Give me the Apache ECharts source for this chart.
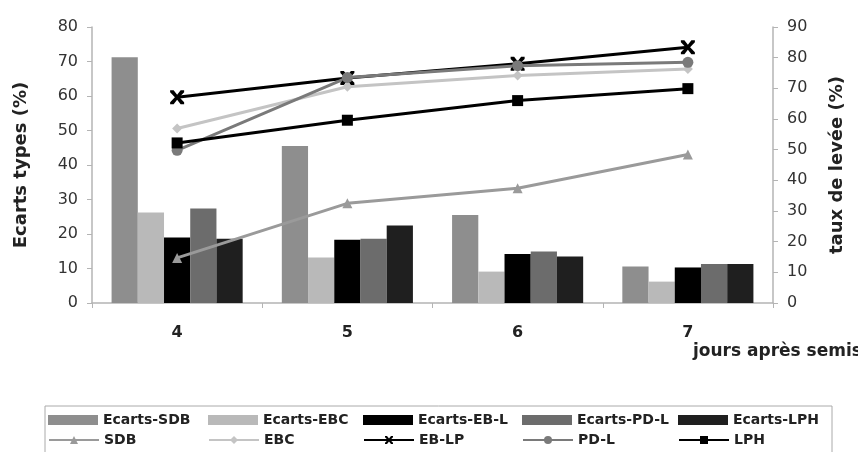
<!DOCTYPE html>
<html>
<head>
<meta charset="utf-8">
<script src="https://cdn.jsdelivr.net/npm/echarts@6/dist/echarts.min.js"></script>
<style>html,body{margin:0;padding:0;background:#fff}#c{width:858px;height:452px}</style>
</head>
<body>
<div id="c"></div>
<script>
const categories = ['4', '5', '6', '7'];
const leftTicks = [0, 80, 10];   // min, max, step (Ecarts types)
const rightTicks = [0, 90, 10];  // min, max, step (taux de levée)

// bars: standard deviations (%)
const ecartsSDB = [71.2, 45.5, 25.5, 10.6];
const ecartsEBC = [26.2, 13.2, 9.1, 6.2];
const ecartsEBL = [19.0, 18.3, 14.2, 10.3];
const ecartsPDL = [27.4, 18.6, 14.9, 11.3];
const ecartsLPH = [18.6, 22.5, 13.5, 11.3];

// lines: emergence rate (%)
const tauxSDB = [14.7, 32.5, 37.4, 48.4];
const tauxEBC = [56.9, 70.5, 74.2, 76.3];
const tauxEBLP = [67.1, 73.4, 78.0, 83.4];
const tauxPDL = [49.8, 73.5, 77.4, 78.5];
const tauxLPH = [52.2, 59.6, 66.0, 69.9];

const FONT = 'DejaVu Sans';
const xMark = 'path://M0,0L2.5,0L5,3.2L7.5,0L10,0L10,1.5L6.6,5L10,8.5L10,10L7.5,10L5,6.8L2.5,10L0,10L0,8.5L3.4,5L0,1.5Z';

const barDefs = [
  ['Ecarts-SDB', ecartsSDB, '#8e8e8e'],
  ['Ecarts-EBC', ecartsEBC, '#b9b9b9'],
  ['Ecarts-EB-L', ecartsEBL, '#000000'],
  ['Ecarts-PD-L', ecartsPDL, '#6c6c6c'],
  ['Ecarts-LPH', ecartsLPH, '#1f1f1f']
];
const lineDefs = [
  ['SDB', tauxSDB, '#9a9a9a', 'triangle', 10],
  ['EBC', tauxEBC, '#c4c4c4', 'diamond', 10],
  ['EB-LP', tauxEBLP, '#000000', xMark, 14],
  ['PD-L', tauxPDL, '#7a7a7a', 'circle', 11],
  ['LPH', tauxLPH, '#000000', 'rect', 11]
];

const series = [];
barDefs.forEach(d => series.push({
  name: d[0], type: 'bar', data: d[1], yAxisIndex: 0,
  barGap: '0%', barCategoryGap: '23%',
  itemStyle: {color: d[2]}, z: 2
}));
lineDefs.forEach(d => series.push({
  name: d[0], type: 'line', data: d[1], yAxisIndex: 1,
  symbol: d[3], symbolSize: d[4], showSymbol: true,
  lineStyle: {color: d[2], width: 3},
  itemStyle: {color: d[2]}, z: 5
}));

const colX = [48, 208, 363, 522, 678];
const legends = [];
barDefs.forEach((d, i) => legends.push({
  data: [{name: d[0], icon: 'rect'}], left: colX[i], top: 413, padding: 0,
  itemWidth: 50, itemHeight: 10, itemGap: 0,
  textStyle: {fontFamily: FONT, fontWeight: 'bold', fontSize: 14, color: '#222'}
}));
lineDefs.forEach((d, i) => legends.push({
  data: [d[0]], left: colX[i], top: 433, padding: 0,
  itemWidth: 50, itemHeight: 10, itemGap: 0,
  textStyle: {fontFamily: FONT, fontWeight: 'bold', fontSize: 14, color: '#222'}
}));

const axisGray = '#b4b4b4';
const chart = echarts.init(document.getElementById('c'));
chart.setOption({
  animation: false,
  backgroundColor: '#fff',
  grid: {left: 92, right: 85, top: 27, bottom: 149},
  legend: legends,
  xAxis: {
    type: 'category', data: categories, boundaryGap: true,
    axisLine: {lineStyle: {color: axisGray, width: 1.5}},
    axisTick: {show: true, length: 5, lineStyle: {color: axisGray}},
    axisLabel: {fontFamily: FONT, fontWeight: 'bold', fontSize: 16, color: '#222', margin: 22}
  },
  yAxis: [
    {
      type: 'value', min: leftTicks[0], max: leftTicks[1], interval: leftTicks[2],
      name: 'Ecarts types (%)', nameLocation: 'middle', nameGap: 62, nameRotate: 90,
      nameTextStyle: {fontFamily: FONT, fontWeight: 'bold', fontSize: 18, color: '#222'},
      axisLine: {show: true, lineStyle: {color: axisGray, width: 1.5}},
      axisTick: {show: true, length: 5, lineStyle: {color: axisGray}},
      splitLine: {show: false},
      axisLabel: {fontFamily: FONT, fontSize: 16, color: '#333', margin: 14}
    },
    {
      type: 'value', min: rightTicks[0], max: rightTicks[1], interval: rightTicks[2],
      position: 'right',
      name: 'taux de levée (%)', nameLocation: 'middle', nameGap: 55, nameRotate: 90,
      nameTextStyle: {fontFamily: FONT, fontWeight: 'bold', fontSize: 18, color: '#222'},
      axisLine: {show: true, lineStyle: {color: axisGray, width: 1.5}},
      axisTick: {show: true, length: 5, lineStyle: {color: axisGray}},
      splitLine: {show: false},
      axisLabel: {fontFamily: FONT, fontSize: 16, color: '#333', margin: 14}
    }
  ],
  graphic: [
    {type: 'text', left: 693, top: 343,
     style: {text: 'jours après semis', font: 'bold 17px "DejaVu Sans"', fill: '#222'}},
    {type: 'rect', shape: {x: 45, y: 406, width: 787, height: 60},
     style: {fill: 'none', stroke: '#aaaaaa', lineWidth: 1}, z: -1}
  ],
  series: series
});
</script>
</body>
</html>
